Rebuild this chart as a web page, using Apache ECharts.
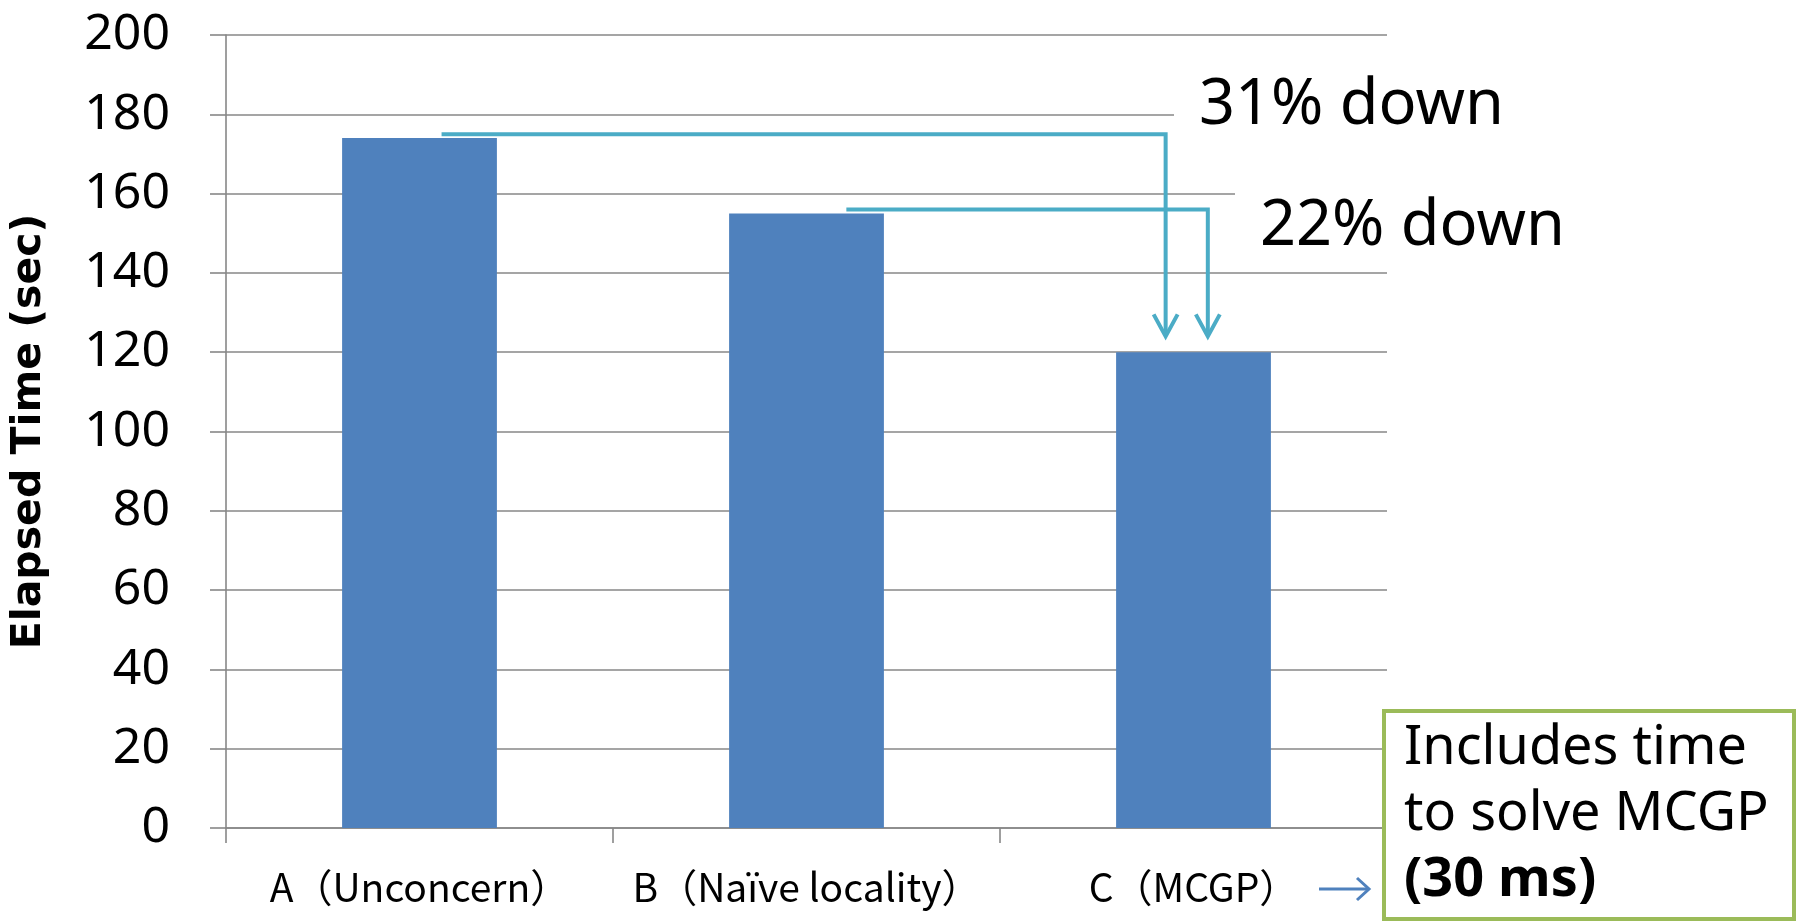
<!DOCTYPE html>
<html>
<head>
<meta charset="utf-8">
<style>
  html, body { margin: 0; padding: 0; background: #fff; }
  #chart { width: 1797px; height: 922px; }
</style>
<script src="https://cdn.jsdelivr.net/npm/echarts@6/dist/echarts.min.js"></script>
</head>
<body>
<div id="chart"></div>
<script>
// Elapsed time per placement strategy
const categories = ['A（Unconcern）', 'B（Naïve locality）', 'C（MCGP）'];
const elapsedSec = [174, 155, 120];
const yTicks = [0, 20, 40, 60, 80, 100, 120, 140, 160, 180, 200];

// Reduction arrows: [from category, level (sec), to category, arrow tip (sec)]
const dropArrows = [
  [0, 175, 2, 124],
  [1, 156, 2, 124]
];
const dropLabels = ['31% down', '22% down'];
const noteLines = ['Includes time', 'to solve MCGP', '(30 ms)'];

// Horizontal offsets of each arrow's start and drop point, as a fraction of a category band
const arrowOffsets = [
  { start: 0.057, drop: -0.072 },
  { start: 0.103, drop: 0.037 }
];

const GRID = '#878787';
const ARROW = '#4BACC6';

const chart = echarts.init(document.getElementById('chart'), null, { renderer: 'canvas' });

chart.setOption({
  backgroundColor: '#ffffff',
  animation: false,
  grid: { left: 226, right: 410, top: 35, bottom: 94, containLabel: false },
  xAxis: {
    type: 'category',
    data: categories,
    boundaryGap: true,
    axisLine: { lineStyle: { color: GRID, width: 1.6 } },
    axisTick: { show: true, length: 15, interval: 0, lineStyle: { color: GRID, width: 1.6 } },
    axisLabel: {
      interval: 0,
      margin: 40,
      color: '#000',
      fontSize: 39,
      fontFamily: '"Noto Sans CJK JP", "Noto Sans", sans-serif'
    }
  },
  yAxis: {
    type: 'value',
    min: yTicks[0],
    max: yTicks[yTicks.length - 1],
    interval: yTicks[1] - yTicks[0],
    name: 'Elapsed Time (sec)',
    nameLocation: 'middle',
    nameRotate: 90,
    nameGap: 176,
    nameTextStyle: {
      color: '#000',
      fontSize: 41,
      fontWeight: 'bold',
      fontFamily: '"DejaVu Sans", sans-serif'
    },
    axisLine: { show: true, lineStyle: { color: GRID, width: 1.6 } },
    axisTick: { show: true, length: 16, lineStyle: { color: GRID, width: 1.6 } },
    axisLabel: {
      margin: 56,
      color: '#000',
      fontSize: 50,
      fontFamily: '"Noto Sans", sans-serif'
    },
    splitLine: { show: true, lineStyle: { color: GRID, width: 1.6 } }
  },
  series: [
    {
      type: 'bar',
      data: elapsedSec,
      barCategoryGap: '60%',
      itemStyle: { color: '#4F81BD' },
      z: 2
    },
    {
      type: 'custom',
      data: dropArrows,
      clip: false,
      z: 5,
      renderItem: function (params, api) {
        const band = api.size([1, 0])[0];
        const off = arrowOffsets[params.dataIndex];
        const p0 = api.coord([api.value(0), api.value(1)]);
        const p1 = api.coord([api.value(2), api.value(1)]);
        const p2 = api.coord([api.value(2), api.value(3)]);
        const x0 = p0[0] + off.start * band;
        const xd = p1[0] + off.drop * band;
        const style = { stroke: ARROW, lineWidth: 4, fill: null, lineJoin: 'miter' };
        return {
          type: 'group',
          children: [
            {
              type: 'polyline',
              shape: { points: [[x0, p0[1]], [xd, p1[1]], [xd, p2[1] - 2]] },
              style: style
            },
            {
              type: 'polyline',
              shape: { points: [[xd - 12, p2[1] - 22], [xd, p2[1]], [xd + 12, p2[1] - 22]] },
              style: style
            }
          ]
        };
      }
    }
  ],
  graphic: [
    {
      type: 'text',
      left: 1174,
      top: 65,
      z: 10,
      style: {
        text: dropLabels[0],
        fontSize: 63,
        fontFamily: '"Noto Sans", sans-serif',
        fill: '#000',
        backgroundColor: '#fff',
        padding: [10, 10, 10, 25]
      }
    },
    {
      type: 'text',
      left: 1235,
      top: 186,
      z: 10,
      style: {
        text: dropLabels[1],
        fontSize: 63,
        fontFamily: '"Noto Sans", sans-serif',
        fill: '#000',
        backgroundColor: '#fff',
        padding: [10, 10, 10, 25]
      }
    },
    {
      type: 'rect',
      z: 10,
      shape: { x: 1384, y: 711, width: 410, height: 208 },
      style: { fill: '#fff', stroke: '#9BBB59', lineWidth: 4 }
    },
    {
      type: 'text',
      left: 1404,
      top: 722,
      z: 11,
      style: {
        text: '{n|' + noteLines[0] + '}\n{n|' + noteLines[1] + '}\n{b|' + noteLines[2] + '}',
        rich: {
          n: { fontSize: 54, lineHeight: 66, fontFamily: '"Noto Sans", sans-serif', fill: '#000' },
          b: { fontSize: 54, lineHeight: 66, fontWeight: 'bold', fontFamily: '"Noto Sans", sans-serif', fill: '#000' }
        }
      }
    },
    {
      type: 'group',
      z: 10,
      children: [
        {
          type: 'line',
          shape: { x1: 1319, y1: 889, x2: 1368, y2: 889 },
          style: { stroke: '#4F81BD', lineWidth: 3 }
        },
        {
          type: 'polyline',
          shape: { points: [[1357, 878], [1369, 889], [1357, 900]] },
          style: { stroke: '#4F81BD', lineWidth: 3, fill: null }
        }
      ]
    }
  ]
});
</script>
</body>
</html>
